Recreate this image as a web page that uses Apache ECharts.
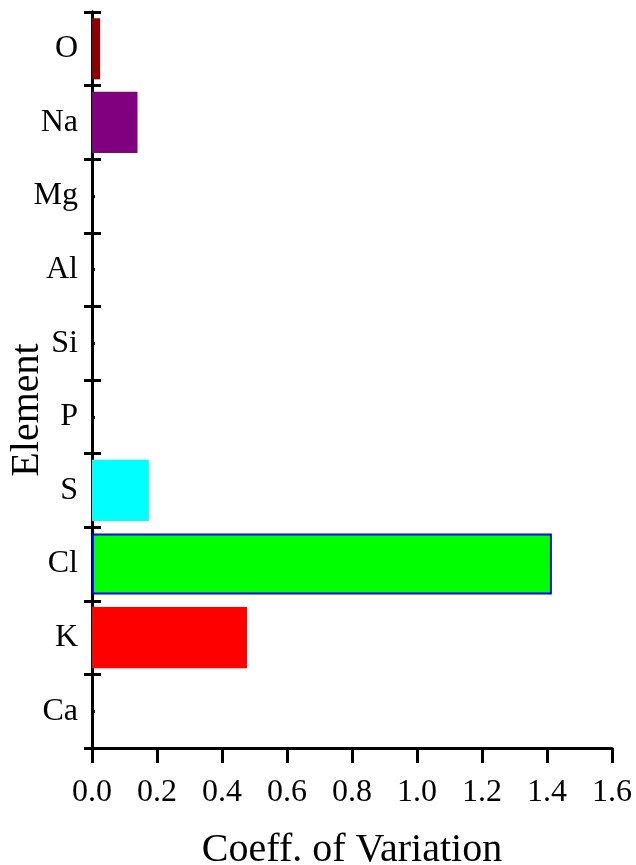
<!DOCTYPE html>
<html><head><meta charset="utf-8">
<script src="https://cdn.jsdelivr.net/npm/echarts@6/dist/echarts.min.js"></script>
<style>html,body{margin:0;padding:0;background:#fff}#c{width:636px;height:865px}</style>
</head><body><div id="c"></div>
<script>
const elements = ['O','Na','Mg','Al','Si','P','S','Cl','K','Ca'];
const coeffValues = [0.025, 0.14, 0, 0, 0, 0, 0.175, 1.415, 0.477, 0];
const xTicks = ['0.0','0.2','0.4','0.6','0.8','1.0','1.2','1.4','1.6'];
const barColors = ['#8b0000','#800080','#000','#000','#000','#000','#00ffff','#00ff00','#ff0000','#000'];
const barBorders = [null,null,null,null,null,null,null,'#0000ff',null,null];

const font = '"Liberation Serif", "Times New Roman", serif';
const chart = echarts.init(document.getElementById('c'), null, {renderer:'canvas'});
const baseY = {
  type:'category', data: elements, inverse:true, boundaryGap:true,
  axisLine:{show:true, lineStyle:{color:'#000', width:3}},
  splitLine:{show:false}
};
chart.setOption({
  animation:false,
  grid:{left:92, top:12, right:24, bottom:117, containLabel:false, outerBoundsMode:'none'},
  xAxis:{
    type:'value', min:0, max:1.6, interval:0.2,
    axisLine:{show:true, lineStyle:{color:'#000', width:3}},
    axisTick:{show:true, inside:false, length:15, lineStyle:{color:'#000', width:3}},
    splitLine:{show:false},
    axisLabel:{color:'#000', fontFamily:font, fontSize:32, margin:29,
      formatter:(v)=>xTicks[Math.round(v/0.2)]},
    name:'Coeff. of Variation', nameLocation:'middle', nameGap:82, nameMoveOverlap:false,
    nameTextStyle:{color:'#000', fontFamily:font, fontSize:40}
  },
  yAxis:[
    Object.assign({}, baseY, {
      axisTick:{show:true, inside:false, length:8, lineStyle:{color:'#000', width:3}},
      axisLabel:{color:'#000', fontFamily:font, fontSize:32, margin:14},
      name:'Element', nameLocation:'middle', nameGap:45, nameRotate:90, nameMoveOverlap:false,
      nameTextStyle:{color:'#000', fontFamily:font, fontSize:40, padding:[0,0,0,-60]}
    }),
    Object.assign({}, baseY, {
      position:'left',
      axisTick:{show:true, inside:true, length:9, lineStyle:{color:'#000', width:3}},
      axisLabel:{show:false}
    }),
    Object.assign({}, baseY, {
      position:'left',
      axisTick:{show:true, inside:true, alignWithLabel:true, length:3, lineStyle:{color:'#000', width:3}},
      axisLabel:{show:false}
    })
  ],
  series:[{
    type:'bar', yAxisIndex:0, barCategoryGap:'17%',
    data: coeffValues.map((v,i)=>({value:v, itemStyle:{color:barColors[i],
      borderColor: barBorders[i] || barColors[i], borderWidth: barBorders[i] ? 2 : 0}}))
  }]
});
</script></body></html>
